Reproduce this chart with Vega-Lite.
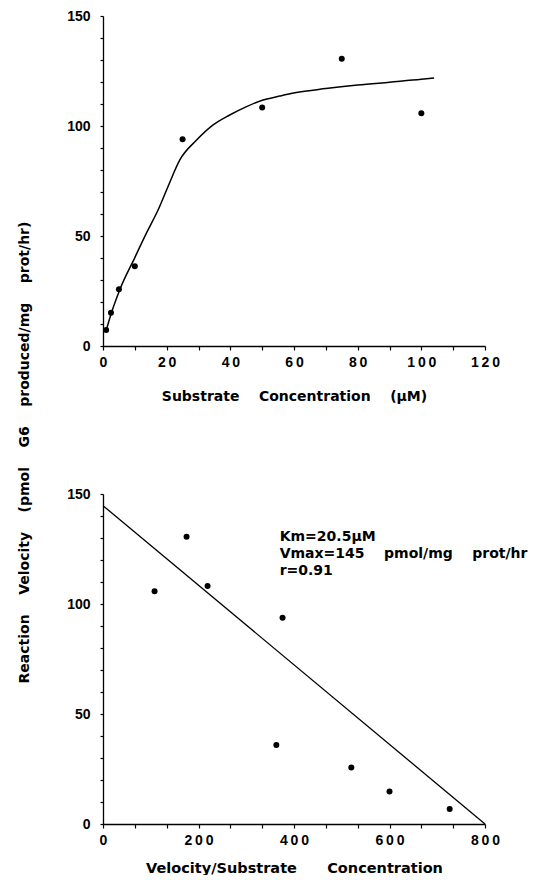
{
  "$schema": "https://vega.github.io/schema/vega-lite/v6.json",
  "background": "white",
  "padding": {"left": 17, "top": 9, "right": 0, "bottom": 0},
  "spacing": 148,
  "bounds": "flush",
  "datasets": {
    "top_pts": [
      {"s": 1, "v": 7.3},
      {"s": 2.5, "v": 15.1},
      {"s": 5, "v": 25.8},
      {"s": 10, "v": 36.2},
      {"s": 25, "v": 94},
      {"s": 50, "v": 108.4},
      {"s": 75, "v": 130.6},
      {"s": 100, "v": 105.8}
    ],
    "top_curve": [
      {"s": 1, "v": 7},
      {"s": 2.6, "v": 14.9},
      {"s": 5.25, "v": 25.5},
      {"s": 10, "v": 40.2},
      {"s": 13.6, "v": 51.2},
      {"s": 17.3, "v": 61.8},
      {"s": 20.4, "v": 72.4},
      {"s": 24.1, "v": 84.5},
      {"s": 29.4, "v": 93.6},
      {"s": 34.6, "v": 100.5},
      {"s": 39.8, "v": 105},
      {"s": 45.1, "v": 108.8},
      {"s": 49.8, "v": 111.6},
      {"s": 55.5, "v": 113.6},
      {"s": 60.3, "v": 115.1},
      {"s": 70, "v": 117},
      {"s": 80, "v": 118.6},
      {"s": 90, "v": 119.9},
      {"s": 100, "v": 121.2},
      {"s": 104, "v": 121.8}
    ],
    "bot_pts": [
      {"vs": 108, "v": 105.8},
      {"vs": 175, "v": 130.6},
      {"vs": 219, "v": 108.2},
      {"vs": 376, "v": 93.7},
      {"vs": 363, "v": 35.9},
      {"vs": 520, "v": 25.7},
      {"vs": 600, "v": 14.8},
      {"vs": 726, "v": 6.8}
    ],
    "bot_line": [
      {"vs": 0, "v": 144.7},
      {"vs": 800, "v": 0}
    ],
    "notes": [
      {"vs": 370, "v": 130.5, "label": "Km=20.5µM"},
      {"vs": 370, "v": 122.7, "label": "Vmax=145\u00a0\u00a0\u00a0\u00a0pmol/mg\u00a0\u00a0\u00a0\u00a0prot/hr"},
      {"vs": 370, "v": 115, "label": "r=0.91"}
    ]
  },
  "vconcat": [
    {
      "width": 382,
      "height": 330,
      "resolve": {"axis": {"x": "independent", "y": "independent"}},
      "layer": [
        {
          "data": {"name": "top_curve"},
          "mark": {"type": "line", "color": "black", "strokeWidth": 1.5, "interpolate": "monotone"},
          "encoding": {
            "x": {
              "field": "s", "type": "quantitative",
              "scale": {"domain": [0, 120], "nice": false},
              "axis": {
                "orient": "bottom",
                "title": "Substrate\u00a0\u00a0\u00a0\u00a0Concentration\u00a0\u00a0\u00a0\u00a0(µM)",
                "values": [0, 20, 40, 60, 80, 100, 120],
                "labelExpr": "join(split(datum.label, ''), '\u2009')",
                "tickSize": 4,
                "labelPadding": 5,
                "titlePadding": 20
              }
            },
            "y": {
              "field": "v", "type": "quantitative",
              "scale": {"domain": [0, 150], "nice": false},
              "axis": {
                "orient": "left",
                "title": "Reaction\u00a0\u00a0\u00a0\u00a0Velocity\u00a0\u00a0\u00a0\u00a0(pmol\u00a0\u00a0\u00a0\u00a0G6\u00a0\u00a0\u00a0\u00a0produced/mg\u00a0\u00a0\u00a0\u00a0prot/hr)",
                "titleAngle": 270,
                "titleX": -79,
                "titleY": 436,
                "titleAlign": "center",
                "titleBaseline": "middle",
                "values": [0, 50, 100, 150],
                "tickSize": 3,
                "labelPadding": 10
              }
            }
          }
        },
        {
          "data": {"name": "top_pts"},
          "mark": {"type": "circle", "color": "black", "size": 36, "opacity": 1},
          "encoding": {
            "x": {
              "field": "s", "type": "quantitative",
              "axis": {"orient": "bottom", "title": null, "labels": false, "domain": false, "tickSize": 4, "values": [10, 30, 50, 70, 90, 110]}
            },
            "y": {
              "field": "v", "type": "quantitative",
              "axis": {"orient": "left", "title": null, "labels": false, "domain": false, "tickSize": 3, "values": [10, 20, 30, 40, 60, 70, 80, 90, 110, 120, 130, 140]}
            }
          }
        }
      ]
    },
    {
      "width": 382,
      "height": 330,
      "resolve": {"axis": {"x": "independent", "y": "independent"}},
      "layer": [
        {
          "data": {"name": "bot_line"},
          "mark": {"type": "line", "color": "black", "strokeWidth": 1.3},
          "encoding": {
            "x": {
              "field": "vs", "type": "quantitative",
              "scale": {"domain": [0, 800], "nice": false},
              "axis": {
                "orient": "bottom",
                "title": "Velocity/Substrate\u00a0\u00a0\u00a0\u00a0\u00a0\u00a0Concentration",
                "titleFontSize": 14.5,
                "values": [0, 200, 400, 600, 800],
                "labelExpr": "join(split(datum.label, ''), '\u2009')",
                "tickSize": 4,
                "labelPadding": 5,
                "titlePadding": 14
              }
            },
            "y": {
              "field": "v", "type": "quantitative",
              "scale": {"domain": [0, 150], "nice": false},
              "axis": {
                "orient": "left",
                "title": null,
                "values": [0, 50, 100, 150],
                "tickSize": 3,
                "labelPadding": 10
              }
            }
          }
        },
        {
          "data": {"name": "bot_pts"},
          "mark": {"type": "circle", "color": "black", "size": 36, "opacity": 1},
          "encoding": {
            "x": {
              "field": "vs", "type": "quantitative",
              "axis": {"orient": "bottom", "title": null, "labels": false, "domain": false, "tickSize": 4, "values": [66.667, 133.333, 266.667, 333.333, 466.667, 533.333, 666.667, 733.333]}
            },
            "y": {
              "field": "v", "type": "quantitative",
              "axis": {"orient": "left", "title": null, "labels": false, "domain": false, "tickSize": 3, "values": [10, 20, 30, 40, 60, 70, 80, 90, 110, 120, 130, 140]}
            }
          }
        },
        {
          "data": {"name": "notes"},
          "mark": {"type": "text", "align": "left", "baseline": "middle", "font": "DejaVu Sans", "fontWeight": "bold", "fontSize": 14, "color": "black"},
          "encoding": {
            "x": {"field": "vs", "type": "quantitative", "axis": null},
            "y": {"field": "v", "type": "quantitative", "axis": null},
            "text": {"field": "label"}
          }
        }
      ]
    }
  ],
  "config": {
    "view": {"stroke": null},
    "axis": {
      "grid": false,
      "domainColor": "black",
      "domainWidth": 1.3,
      "tickColor": "black",
      "tickWidth": 1.2,
      "labelColor": "black",
      "titleColor": "black",
      "labelFont": "Liberation Sans",
      "titleFont": "DejaVu Sans",
      "labelFontWeight": "bold",
      "titleFontWeight": "bold",
      "labelFontSize": 14,
      "titleFontSize": 14,
      "labelFlush": false,
      "labelBound": false
    }
  }
}
